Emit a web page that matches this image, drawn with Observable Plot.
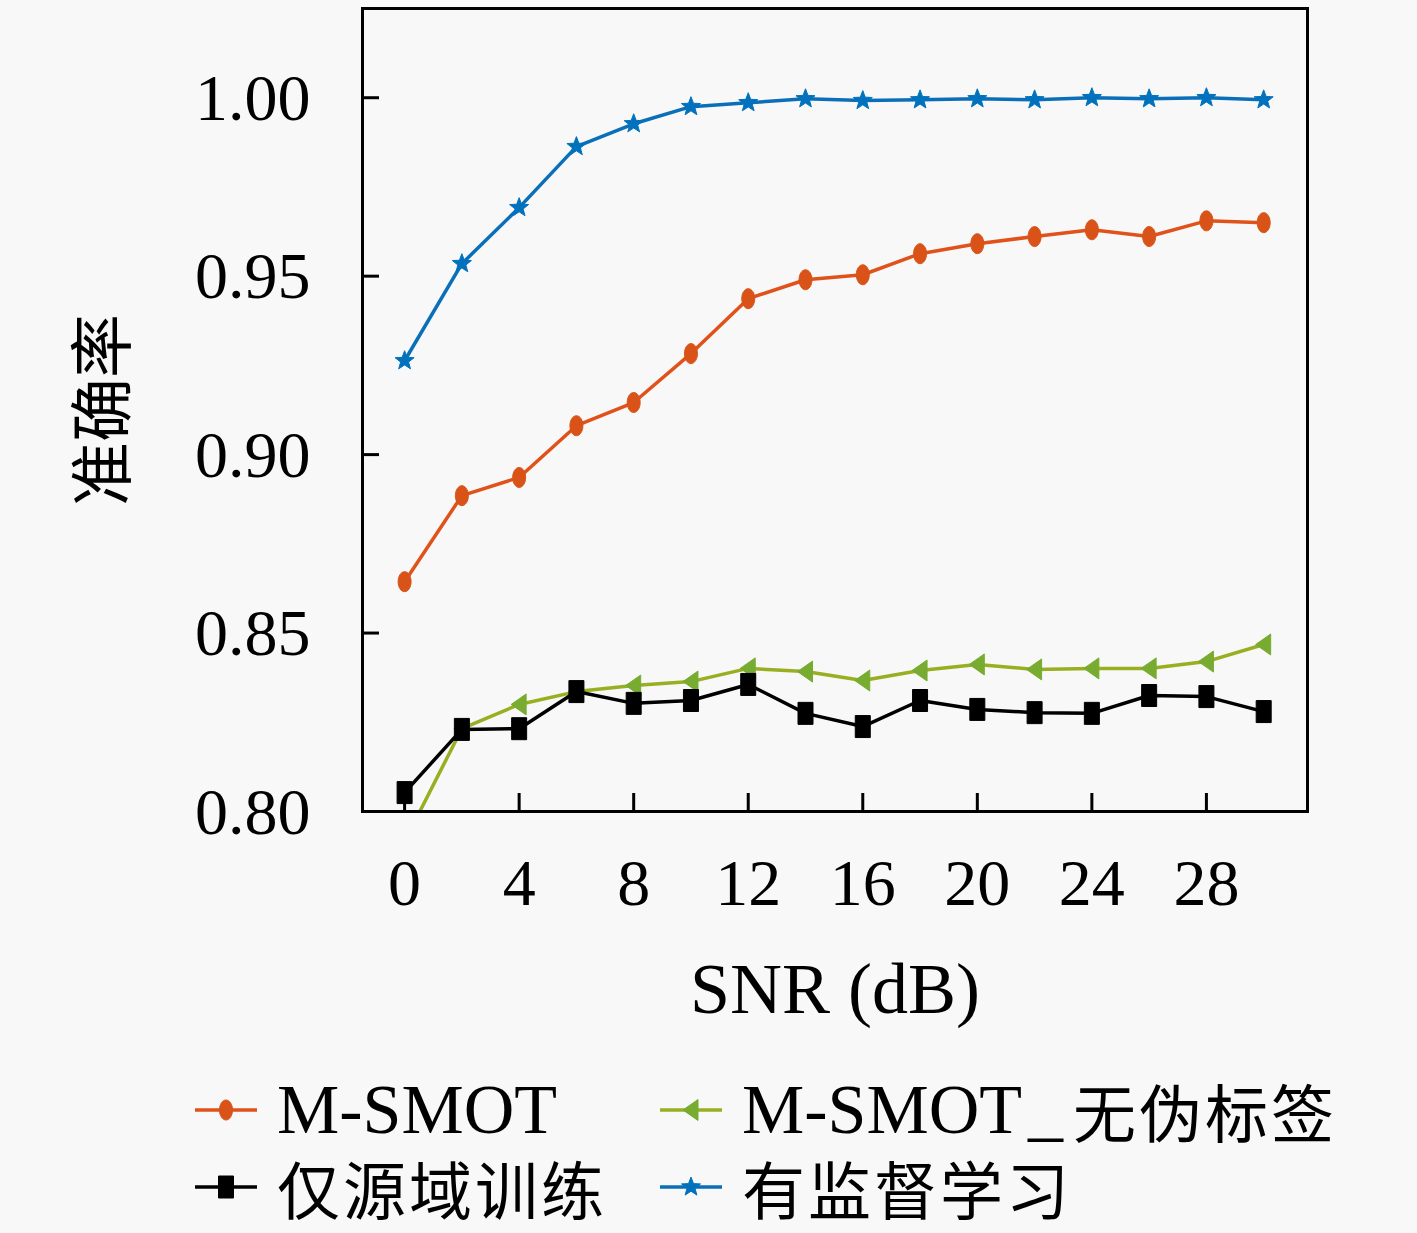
<!DOCTYPE html>
<html>
<head>
<meta charset="utf-8">
<script src="https://cdn.jsdelivr.net/npm/d3@7"></script>
<script src="https://cdn.jsdelivr.net/npm/@observablehq/plot@0.6"></script>
<style>
  html, body { margin: 0; padding: 0; background: #f8f8f8; }
  #wrap { position: relative; width: 1417px; height: 1233px; overflow: hidden; }
  .leg { position: absolute; display: flex; align-items: center; height: 70px;
         font-family: "Liberation Serif", "DejaVu Serif", "Noto Sans CJK SC", serif; font-size: 70px; color: #000; white-space: nowrap; line-height: 70px; }
  .leg svg { margin-right: 20px; }
  .leg span { display: inline-block; height: 70px; line-height: 70px; overflow: visible; }
  .cjk { font-family: "Noto Sans CJK SC", sans-serif; font-size: 63px; letter-spacing: 3px; }
  .leg span.cjk { height: 64px; line-height: 64px; }
  .us { margin: 0 10px 0 6px; }
</style>
</head>
<body>
<div id="wrap"></div>
<script>
// ---- data ----
const snr = [0, 2, 4, 6, 8, 10, 12, 14, 16, 18, 20, 22, 24, 26, 28, 30];
const mSmot      = [0.8644, 0.8885, 0.8936, 0.9081, 0.9146, 0.9283, 0.9437, 0.9490, 0.9504, 0.9563, 0.9591, 0.9611, 0.9630, 0.9611, 0.9655, 0.9650];
const mSmotNoPL  = [0.7916, 0.8232, 0.8300, 0.8336, 0.8353, 0.8364, 0.8401, 0.8392, 0.8367, 0.8395, 0.8412, 0.8398, 0.8401, 0.8401, 0.8420, 0.8468];
const sourceOnly = [0.8053, 0.8230, 0.8232, 0.8336, 0.8303, 0.8311, 0.8356, 0.8275, 0.8238, 0.8311, 0.8286, 0.8277, 0.8275, 0.8325, 0.8322, 0.8280];
const supervised = [0.9263, 0.9535, 0.9692, 0.9863, 0.9927, 0.9975, 0.9986, 0.9997, 0.9992, 0.9994, 0.9997, 0.9994, 1.0000, 0.9997, 1.0000, 0.9994];
const seriesNames = ["M-SMOT", "M-SMOT_无伪标签", "仅源域训练", "有监督学习"];
const xTicks = [0, 4, 8, 12, 16, 20, 24, 28];
const yTicks = [0.80, 0.85, 0.90, 0.95, 1.00];
const xLabel = "SNR (dB)";
const yLabel = "准确率";

// ---- styles ----
const colors = {"M-SMOT": "#D95319", "M-SMOT_无伪标签": "#77AC30", "仅源域训练": "#000000", "有监督学习": "#0072BD"};
const lineColors = {"M-SMOT": "#E0521A", "M-SMOT_无伪标签": "#9AAE22", "仅源域训练": "#000000", "有监督学习": "#0A6FB8"};
const serif = '"Liberation Serif", "DejaVu Serif", serif';
const cjk = '"Noto Sans CJK SC", sans-serif';

// custom symbols
const ellipseSym = { draw(ctx) { const a = 6.5, b = 10, k = 0.5523;
  ctx.moveTo(a, 0);
  ctx.bezierCurveTo(a, k*b, k*a, b, 0, b);
  ctx.bezierCurveTo(-k*a, b, -a, k*b, -a, 0);
  ctx.bezierCurveTo(-a, -k*b, -k*a, -b, 0, -b);
  ctx.bezierCurveTo(k*a, -b, a, -k*b, a, 0);
  ctx.closePath(); } };
const rectSym = { draw(ctx) { ctx.moveTo(-7.5, -11); ctx.lineTo(7.5, -11); ctx.lineTo(7.5, 11); ctx.lineTo(-7.5, 11); ctx.closePath(); } };
const triSym = { draw(ctx) { ctx.moveTo(-8, 0); ctx.lineTo(7, -10.5); ctx.lineTo(7, 10.5); ctx.closePath(); } };
const starSym = { draw(ctx) {
  const R = 10, r = 4.2; for (let i = 0; i < 10; i++) { const ang = -Math.PI/2 + i*Math.PI/5; const rr = i % 2 ? r : R;
    const px = rr*Math.cos(ang), py = rr*Math.sin(ang); if (i === 0) ctx.moveTo(px, py); else ctx.lineTo(px, py); }
  ctx.closePath(); } };
const symbols = {"M-SMOT": ellipseSym, "M-SMOT_无伪标签": triSym, "仅源域训练": rectSym, "有监督学习": starSym};

const valuesBySeries = {"M-SMOT": mSmot, "M-SMOT_无伪标签": mSmotNoPL, "仅源域训练": sourceOnly, "有监督学习": supervised};
const table = seriesNames.map(name => snr.map((s, i) => ({snr: s, acc: valuesBySeries[name][i], series: name})));

const marks = [];
seriesNames.forEach((name, k) => {
  const d = table[k];
  marks.push(Plot.line(d, {x: "snr", y: "acc", stroke: lineColors[name], strokeWidth: 3.5, clip: true}));
  marks.push(Plot.dot(d, {x: "snr", y: "acc", symbol: symbols[name], r: 5, fill: colors[name], stroke: colors[name], strokeWidth: 1, clip: true}));
});

const chart = Plot.plot({
  width: 1417, height: 1050,
  marginLeft: 362, marginRight: 110, marginTop: 8, marginBottom: 239,
  style: {background: "transparent", fontFamily: serif, fontSize: "66px", color: "#000"},
  x: {domain: [-1.47, 31.53], axis: null},
  y: {domain: [0.80, 1.025], axis: null},
  marks: [
    ...marks,
    Plot.tickX(xTicks, {x: d => d, insetTop: 785, stroke: "#000", strokeWidth: 3}),
    Plot.tickY(yTicks, {y: d => d, insetRight: 928, stroke: "#000", strokeWidth: 3}),
    Plot.frame({stroke: "#000", strokeWidth: 3}),
    Plot.text(xTicks, {x: d => d, text: d => String(d), frameAnchor: "bottom", lineAnchor: "middle", dy: 72, fontSize: 66, fontFamily: serif, fill: "#000"}),
    Plot.text(yTicks, {y: d => d, text: d => d.toFixed(2), frameAnchor: "left", textAnchor: "end", lineAnchor: "middle", dx: -52, dy: 1, fontSize: 66, fontFamily: serif, fill: "#000"}),
    Plot.text([xLabel], {frameAnchor: "bottom", textAnchor: "middle", lineAnchor: "middle", dy: 178, fontSize: 72, fontFamily: serif, fill: "#000"}),
    Plot.text([yLabel], {frameAnchor: "left", textAnchor: "middle", lineAnchor: "middle", dx: -258, rotate: -90, fontSize: 64, fontFamily: cjk, fill: "#000"})
  ]
});
const wrap = document.getElementById("wrap");
wrap.appendChild(chart);

// legend
function swatch(name) {
  const ns = "http://www.w3.org/2000/svg";
  const svg = document.createElementNS(ns, "svg");
  svg.setAttribute("width", 62); svg.setAttribute("height", 30);
  const line = document.createElementNS(ns, "line");
  line.setAttribute("x1", 0); line.setAttribute("x2", 62); line.setAttribute("y1", 15); line.setAttribute("y2", 15);
  line.setAttribute("stroke", lineColors[name]); line.setAttribute("stroke-width", 3.5);
  svg.appendChild(line);
  const p = d3.path(); symbols[name].draw(p);
  const path = document.createElementNS(ns, "path");
  path.setAttribute("d", p.toString()); path.setAttribute("transform", "translate(31,15)");
  path.setAttribute("fill", colors[name]); path.setAttribute("stroke", colors[name]);
  svg.appendChild(path);
  return svg;
}
const legendPos = [[195, 1075], [660, 1075], [195, 1152], [660, 1152]];
seriesNames.forEach((name, i) => {
  const div = document.createElement("div");
  div.className = "leg";
  div.style.left = legendPos[i][0] + "px"; div.style.top = legendPos[i][1] + "px";
  div.appendChild(swatch(name));
  const m = name.match(/^([\x00-\x7f]*)(.*)$/);
  if (m[1]) {
    const latin = m[1];
    const s = document.createElement("span");
    if (latin.endsWith("_")) {
      s.textContent = latin.slice(0, -1); div.appendChild(s);
      const u = document.createElement("span"); u.className = "us"; u.textContent = "_"; div.appendChild(u);
    } else { s.textContent = latin; div.appendChild(s); }
  }
  if (m[2]) { const s = document.createElement("span"); s.className = "cjk"; s.textContent = m[2]; div.appendChild(s); }
  wrap.appendChild(div);
});
</script>
</body>
</html>
